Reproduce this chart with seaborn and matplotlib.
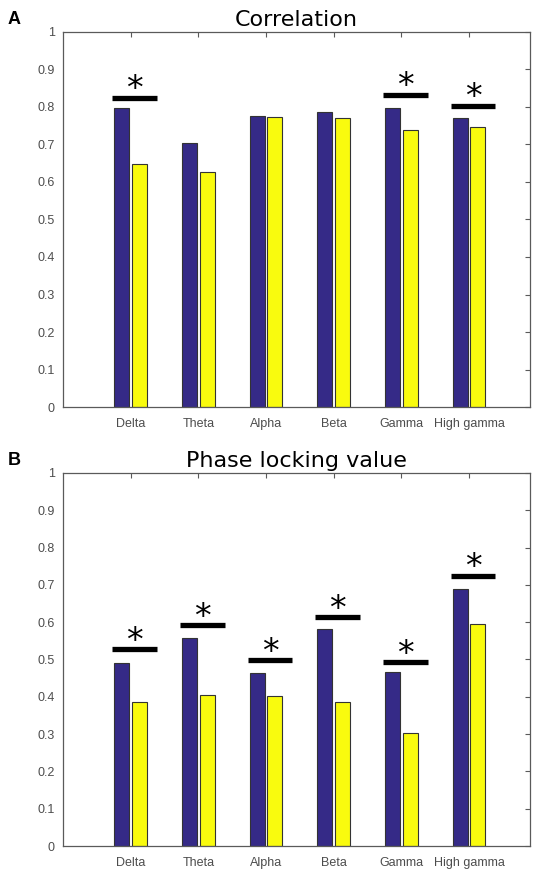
import numpy as np
import pandas as pd
import seaborn as sns
import matplotlib.pyplot as plt

# frequency bands
bands = ['Delta', 'Theta', 'Alpha', 'Beta', 'Gamma', 'High gamma']

# panel A - correlation
corr_blue = [0.797, 0.703, 0.777, 0.786, 0.797, 0.771]
corr_yellow = [0.648, 0.626, 0.773, 0.771, 0.739, 0.747]
corr_sig = [0.825, None, None, None, 0.833, 0.803]

# panel B - phase locking value
plv_blue = [0.490, 0.558, 0.464, 0.582, 0.466, 0.690]
plv_yellow = [0.385, 0.405, 0.403, 0.385, 0.302, 0.595]
plv_sig = [0.528, 0.592, 0.498, 0.613, 0.492, 0.724]

blue = '#352a87'
yellow = '#f9fb0e'
axis_gray = '#5a5a5a'

sns.set_style('white')
plt.rcParams['font.family'] = ['Liberation Sans', 'DejaVu Sans']


def make_df(b, y):
    return pd.DataFrame({
        'band': bands * 2,
        'value': b + y,
        'group': ['g1'] * len(bands) + ['g2'] * len(bands),
    })


def draw_panel(ax, df, sig, title, letter):
    sns.barplot(data=df, x='band', y='value', hue='group', order=bands,
                palette=[blue, yellow], saturation=1, width=0.52, gap=0.15,
                edgecolor='#333333', linewidth=0.8, legend=False, ax=ax)
    # significance markers
    for i, s in enumerate(sig):
        if s is None:
            continue
        cx = i + 0.06
        ax.plot([cx - 0.33, cx + 0.33], [s, s], color='black', lw=3.8,
                solid_capstyle='butt')
        ax.text(cx, s - 0.004, '*', ha='center', va='baseline', fontsize=24,
                family='DejaVu Sans', color='black')
    ax.set_xlim(-1, 5.9)
    ax.set_ylim(0, 1)
    ax.set_yticks(np.arange(0, 1.01, 0.1))
    ax.set_yticklabels(['0'] + ['%.1f' % v for v in np.arange(0.1, 0.95, 0.1)] + ['1'])
    ax.set_xlabel('')
    ax.set_ylabel('')
    ax.tick_params(direction='in', length=3.5, width=0.8, color=axis_gray,
                   labelcolor='#4d4d4d', labelsize=9, top=True, right=True,
                   pad=6)
    ax.tick_params(axis='x', pad=8)
    for sp in ax.spines.values():
        sp.set_visible(True)
        sp.set_color(axis_gray)
        sp.set_linewidth(0.9)
    ax.set_title(title, fontsize=16, family='DejaVu Sans', color='black', pad=4)
    ax.text(-0.118, 1.01, letter, transform=ax.transAxes, fontsize=13,
            fontweight='bold', color='black', ha='left', va='bottom')


fig = plt.figure(figsize=(5.34, 8.71), dpi=100)
ax_a = fig.add_axes([0.118, 0.5327, 0.8745, 0.4306])
ax_b = fig.add_axes([0.118, 0.0287, 0.8745, 0.4283])

draw_panel(ax_a, make_df(corr_blue, corr_yellow), corr_sig, 'Correlation', 'A')
draw_panel(ax_b, make_df(plv_blue, plv_yellow), plv_sig, 'Phase locking value', 'B')

fig.savefig('out.png', dpi=100)
